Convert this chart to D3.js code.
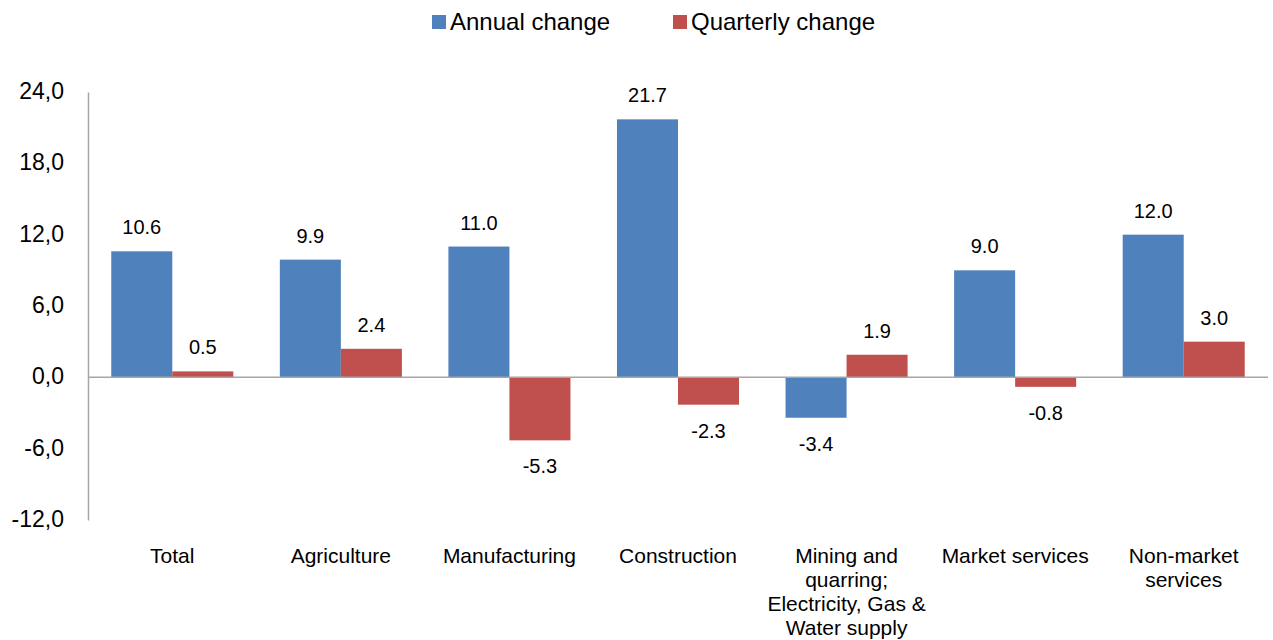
<!DOCTYPE html>
<html>
<head>
<meta charset="utf-8">
<script src="https://cdn.jsdelivr.net/npm/d3@7"></script>
<style>
  body { margin: 0; background: #fff; }
  svg { font-family: "Liberation Sans", Arial, sans-serif; }
</style>
</head>
<body>
<div class="chart"></div>
<script>
const categories = ['Total', 'Agriculture', 'Manufacturing', 'Construction',
    'Mining and quarring; Electricity, Gas & Water supply', 'Market services', 'Non-market services'];
const categoryLines = [['Total'], ['Agriculture'], ['Manufacturing'], ['Construction'],
    ['Mining and', 'quarring;', 'Electricity, Gas &', 'Water supply'], ['Market services'], ['Non-market', 'services']];
const annualChange = [10.6, 9.9, 11.0, 21.7, -3.4, 9.0, 12.0];
const quarterlyChange = [0.5, 2.4, -5.3, -2.3, 1.9, -0.8, 3.0];
const yTicks = [-12, -6, 0, 6, 12, 18, 24];

const series = [
    { name: 'Annual change', values: annualChange, color: '#4F81BD' },
    { name: 'Quarterly change', values: quarterlyChange, color: '#C0504D' }
];

const width = 1273;
const height = 640;
const plotLeft = 88, plotRight = 1268, plotTop = 92, plotBottom = 520;

const svg = d3.select('.chart')
    .append('svg')
    .attr('width', width)
    .attr('height', height);

const x = d3.scaleBand()
    .domain(categories)
    .range([plotLeft, plotRight])
    .paddingInner(0.276)
    .paddingOuter(0.138);

const xs = d3.scaleBand()
    .domain(series.map(s => s.name))
    .range([0, x.bandwidth()]);

const y = d3.scaleLinear()
    .domain([-12, 24])
    .range([plotBottom, plotTop]);

// y axis (line + labels only, no ticks)
const yAxis = svg.append('g')
    .attr('transform', `translate(${plotLeft},0)`)
    .call(d3.axisLeft(y).tickValues(yTicks).tickSize(0).tickPadding(24)
        .tickFormat(d => d3.format('.1f')(d).replace('.', ',').replace('−', '-')));
yAxis.select('.domain').attr('stroke', '#a6a6a6').attr('stroke-width', 1.5);
yAxis.selectAll('text')
    .attr('font-size', 23)
    .attr('dy', '0.28em')
    .attr('fill', '#000')
    .style('font-family', '"Liberation Sans", Arial, sans-serif');

// bars
const groups = svg.append('g')
    .selectAll('g')
    .data(series)
    .enter().append('g')
    .attr('fill', d => d.color);

groups.selectAll('rect')
    .data(s => s.values.map((v, i) => ({ s, v, c: categories[i] })))
    .enter().append('rect')
    .attr('x', d => x(d.c) + xs(d.s.name))
    .attr('width', xs.bandwidth())
    .attr('y', d => y(Math.max(0, d.v)))
    .attr('height', d => Math.abs(y(d.v) - y(0)));

// zero line
svg.append('line')
    .attr('x1', plotLeft).attr('x2', plotRight)
    .attr('y1', y(0)).attr('y2', y(0))
    .attr('stroke', '#a6a6a6')
    .attr('stroke-width', 1.5);

// value labels
groups.selectAll('text')
    .data(s => s.values.map((v, i) => ({ s, v, c: categories[i] })))
    .enter().append('text')
    .attr('x', d => x(d.c) + xs(d.s.name) + xs.bandwidth() / 2)
    .attr('y', d => d.v >= 0 ? y(d.v) - 24 : y(d.v) + 26)
    .attr('dy', '0.35em')
    .attr('text-anchor', 'middle')
    .attr('font-size', 20)
    .attr('fill', '#000')
    .text(d => d3.format('.1f')(d.v).replace('−', '-'));

// category labels
const catLabels = svg.append('g')
    .selectAll('text')
    .data(categories)
    .enter().append('text')
    .attr('x', d => x(d) + x.bandwidth() / 2)
    .attr('y', 556)
    .attr('text-anchor', 'middle')
    .attr('font-size', 21)
    .attr('fill', '#000');

catLabels.selectAll('tspan')
    .data((d, i) => categoryLines[i])
    .enter().append('tspan')
    .attr('x', function() { return d3.select(this.parentNode).attr('x'); })
    .attr('dy', (d, i) => i === 0 ? '0.35em' : 24)
    .text(d => d);

// legend
const legendX = [432, 673];
const legend = svg.append('g')
    .selectAll('g')
    .data(series)
    .enter().append('g')
    .attr('transform', (d, i) => `translate(${legendX[i]},22)`);

legend.append('rect')
    .attr('x', 0).attr('y', -7)
    .attr('width', 14).attr('height', 14)
    .attr('fill', d => d.color);

legend.append('text')
    .attr('x', 18)
    .attr('dy', '0.35em')
    .attr('font-size', 24)
    .attr('fill', '#000')
    .text(d => d.name);
</script>
</body>
</html>
